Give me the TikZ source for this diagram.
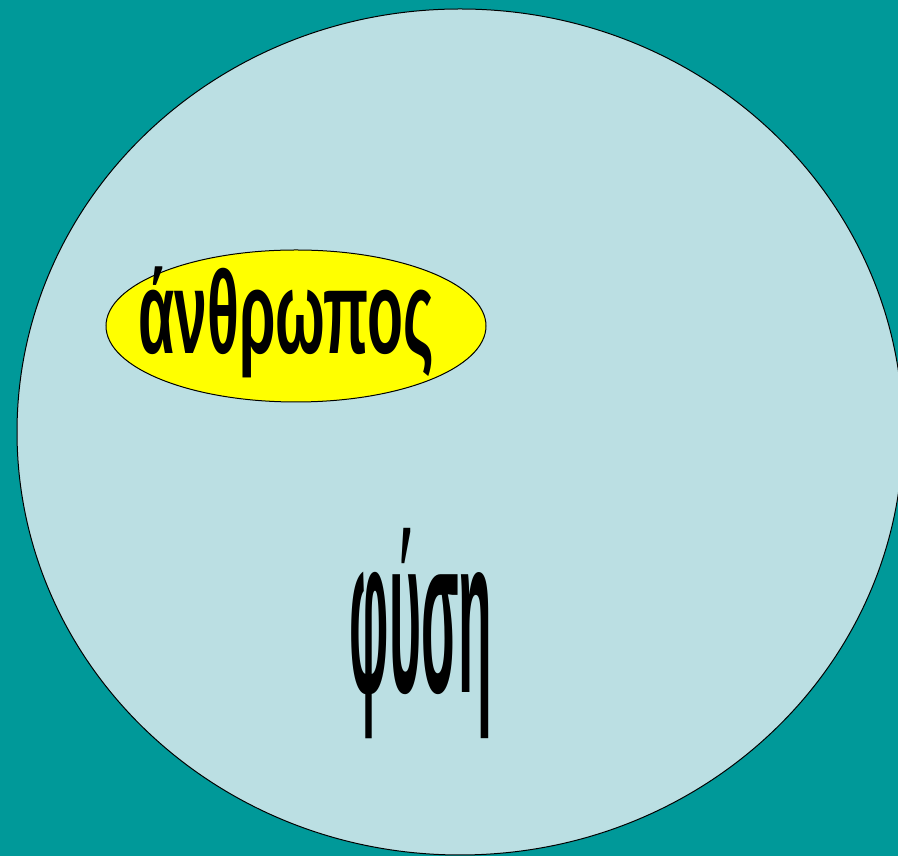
\documentclass[tikz,border=0pt]{standalone}
\usepackage{fontspec}
\setmainfont{Liberation Sans}
\definecolor{bgteal}{HTML}{009999}
\definecolor{paleblue}{HTML}{BBDFE3}
\definecolor{brightyellow}{HTML}{FFFF00}
\tikzset{
  world/.style={draw=black, line width=1pt, fill=paleblue},
  human/.style={draw=black, line width=1pt, fill=brightyellow},
}
\begin{document}
\begin{tikzpicture}[x=1pt,y=1pt]
\fill[bgteal] (0,0) rectangle (898,856);
\useasboundingbox (0,0) rectangle (898,856);
\path[world] (460,424) ellipse [x radius=443, y radius=423];
\path[human] (296,530) ellipse [x radius=190, y radius=76];
\node (anthr) at (286,534) [xscale=0.95, yscale=1.9, inner sep=0] {\fontsize{62}{70}\selectfont\bfseries άνθρωπος};
\node (fysi) at (421,222) [anchor=center, xscale=0.55, yscale=2.23, inner sep=0] {\fontsize{100}{110}\selectfont\bfseries φύση};
\end{tikzpicture}
\end{document}
